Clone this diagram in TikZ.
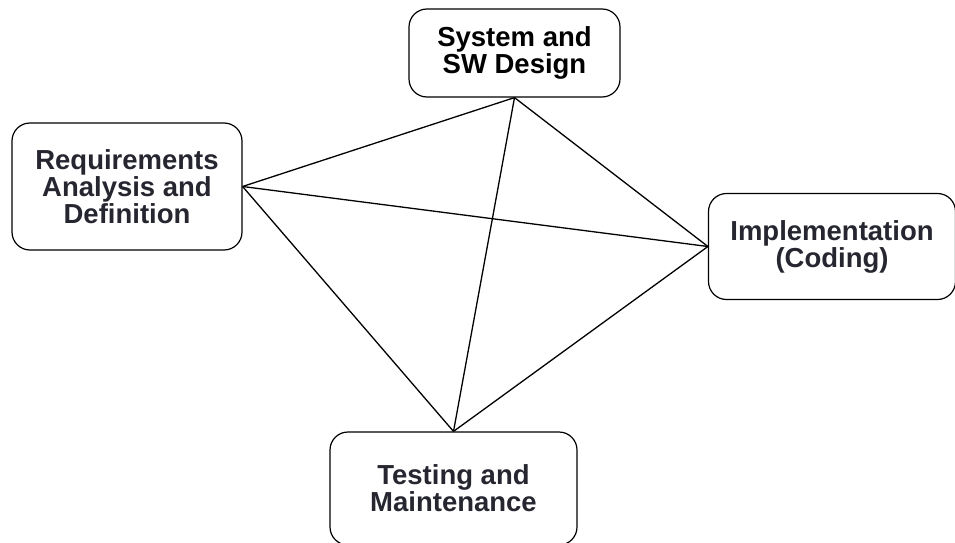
\documentclass[tikz,border=0pt]{standalone}
\usepackage{fontspec}
\setmainfont{Liberation Sans}
\definecolor{labelink}{RGB}{38,38,48}
\begin{document}
\begin{tikzpicture}[x=1pt,y=-1pt,
  phase/.style={draw=black, line width=1.2pt, rounded corners=18pt,
    align=center, inner sep=0pt, text=labelink,
    font=\fontsize{27.5}{27}\selectfont\bfseries},
  link/.style={draw=black, line width=1.3pt}]
  \useasboundingbox (0,0) rectangle (955,543);
  \clip (0,0) rectangle (955,543);

  % the four phase boxes
  \node[phase, text=black, minimum width=211pt, minimum height=88pt]
    (sys) at (514.5,53) {System and\\SW Design};
  \node[phase, minimum width=230pt, minimum height=127pt]
    (req) at (127,186.5) {Requirements\\Analysis and\\Definition};
  \node[phase, minimum width=247pt, minimum height=106pt]
    (impl) at (832,246.5) {Implementation\\(Coding)};
  \node[phase, minimum width=247pt, minimum height=113pt]
    (test) at (453.5,488.5) {Testing and\\Maintenance};

  % every phase linked to every other
  \draw[link] (req.east) -- (sys.south);
  \draw[link] (sys.south) -- (impl.west);
  \draw[link] (sys.south) -- (test.north);
  \draw[link] (req.east) -- (impl.west);
  \draw[link] (req.east) -- (test.north);
  \draw[link] (impl.west) -- (test.north);
\end{tikzpicture}
\end{document}
